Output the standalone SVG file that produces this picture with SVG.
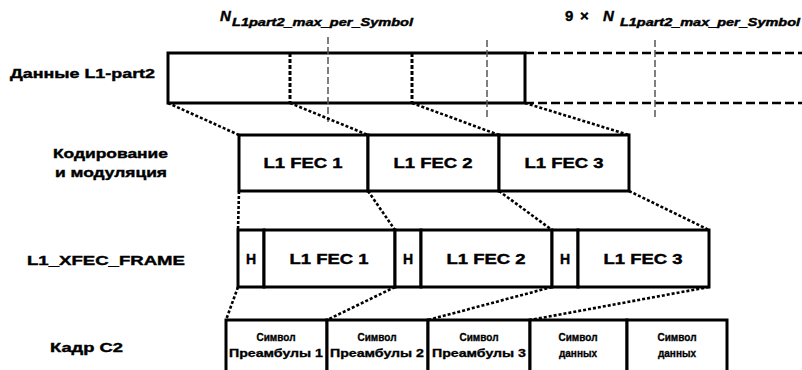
<svg xmlns="http://www.w3.org/2000/svg" width="802" height="370" viewBox="0 0 802 370">
<style>
text{font-family:"Liberation Sans",Arial,sans-serif;font-weight:bold;fill:#000;stroke:#000;stroke-width:0.4}
.lbl{font-size:13px}
.fec{font-size:14px;text-anchor:middle}
.cell{font-size:10px;text-anchor:middle;stroke-width:0.3}
.box{fill:#fff;stroke:#000;stroke-width:3}
.conn{fill:none;stroke:#000;stroke-width:2.6;stroke-dasharray:3 2}
.thinv{fill:none;stroke:#555;stroke-width:1.5;stroke-dasharray:7 3}
.thickv{fill:none;stroke:#000;stroke-width:3;stroke-dasharray:4 2}
.ext{fill:none;stroke:#000;stroke-width:2.5;stroke-dasharray:9 4}
.hdr{font-style:italic}
</style>
<g id="header-labels">
<text class="hdr" x="220" y="21" font-size="15">N</text>
<text class="hdr" x="232" y="26" font-size="10" textLength="181" lengthAdjust="spacingAndGlyphs">L1part2_max_per_Symbol</text>
<text x="565" y="21" font-size="15">9</text>
<text x="580" y="21" font-size="15">×</text>
<text class="hdr" x="603" y="21" font-size="15">N</text>
<text class="hdr" x="620" y="26" font-size="10" textLength="180" lengthAdjust="spacingAndGlyphs">L1part2_max_per_Symbol</text>
</g>
<g id="row-labels">
<text class="lbl" x="10" y="78" textLength="145" lengthAdjust="spacingAndGlyphs">Данные L1-part2</text>
<text class="lbl" x="53" y="158" textLength="115" lengthAdjust="spacingAndGlyphs">Кодирование</text>
<text class="lbl" x="55" y="177" textLength="112" lengthAdjust="spacingAndGlyphs">и модуляция</text>
<text class="lbl" x="27" y="265" textLength="158" lengthAdjust="spacingAndGlyphs">L1_XFEC_FRAME</text>
<text class="lbl" x="50" y="352" textLength="73" lengthAdjust="spacingAndGlyphs">Кадр C2</text>
</g>
<g id="l1part2-data">
<path class="ext" d="M525 53 H802 M525 103 H802"/>
<rect class="box" x="168" y="53" width="357" height="50"/>
<path class="thickv" d="M290 53 V103 M412 53 V103"/>
<path class="thinv" d="M328 37 V122 M487 40 V117 M655 40 V117"/>
</g>
<g id="fec-row">
<rect class="box" x="239" y="135" width="129" height="56"/>
<rect class="box" x="368" y="135" width="131" height="56"/>
<rect class="box" x="499" y="135" width="130" height="56"/>
<text class="fec" x="303" y="168" textLength="79" lengthAdjust="spacingAndGlyphs">L1 FEC 1</text>
<text class="fec" x="433" y="168" textLength="79" lengthAdjust="spacingAndGlyphs">L1 FEC 2</text>
<text class="fec" x="564" y="168" textLength="79" lengthAdjust="spacingAndGlyphs">L1 FEC 3</text>
</g>
<g id="xfec-frame">
<rect class="box" x="238" y="230" width="26" height="57"/>
<rect class="box" x="264" y="230" width="131" height="57"/>
<rect class="box" x="395" y="230" width="26" height="57"/>
<rect class="box" x="421" y="230" width="131" height="57"/>
<rect class="box" x="552" y="230" width="26" height="57"/>
<rect class="box" x="578" y="230" width="131" height="57"/>
<text class="fec" x="251" y="264">H</text>
<text class="fec" x="329" y="264" textLength="79" lengthAdjust="spacingAndGlyphs">L1 FEC 1</text>
<text class="fec" x="408" y="264">H</text>
<text class="fec" x="486" y="264" textLength="79" lengthAdjust="spacingAndGlyphs">L1 FEC 2</text>
<text class="fec" x="565" y="264">H</text>
<text class="fec" x="643" y="264" textLength="79" lengthAdjust="spacingAndGlyphs">L1 FEC 3</text>
</g>
<g id="c2-frame">
<rect class="box" x="226" y="320" width="101" height="56"/>
<rect class="box" x="327" y="320" width="101" height="56"/>
<rect class="box" x="428" y="320" width="102" height="56"/>
<rect class="box" x="530" y="320" width="97" height="56"/>
<rect class="box" x="627" y="320" width="100" height="56"/>
<text class="cell" x="276" y="341">Символ</text>
<text class="cell" x="276" y="357" textLength="94" lengthAdjust="spacingAndGlyphs">Преамбулы 1</text>
<text class="cell" x="377" y="341">Символ</text>
<text class="cell" x="377" y="357" textLength="94" lengthAdjust="spacingAndGlyphs">Преамбулы 2</text>
<text class="cell" x="479" y="341">Символ</text>
<text class="cell" x="479" y="357" textLength="94" lengthAdjust="spacingAndGlyphs">Преамбулы 3</text>
<text class="cell" x="578" y="341">Символ</text>
<text class="cell" x="578" y="357">данных</text>
<text class="cell" x="677" y="341">Символ</text>
<text class="cell" x="677" y="357">данных</text>
</g>
<g id="connectors">
<path class="conn" d="M168 103 L239 135"/>
<path class="conn" d="M290 103 L368 135"/>
<path class="conn" d="M412 103 L499 135"/>
<path class="conn" d="M525 103 L629 135"/>
<path class="conn" d="M239 191 L238 230"/>
<path class="conn" d="M368 191 L395 230"/>
<path class="conn" d="M499 191 L552 230"/>
<path class="conn" d="M629 191 L709 230"/>
<path class="conn" d="M238 287 L226 320"/>
<path class="conn" d="M395 287 L327 320"/>
<path class="conn" d="M552 287 L428 320"/>
<path class="conn" d="M709 287 L530 320"/>
</g>
</svg>
